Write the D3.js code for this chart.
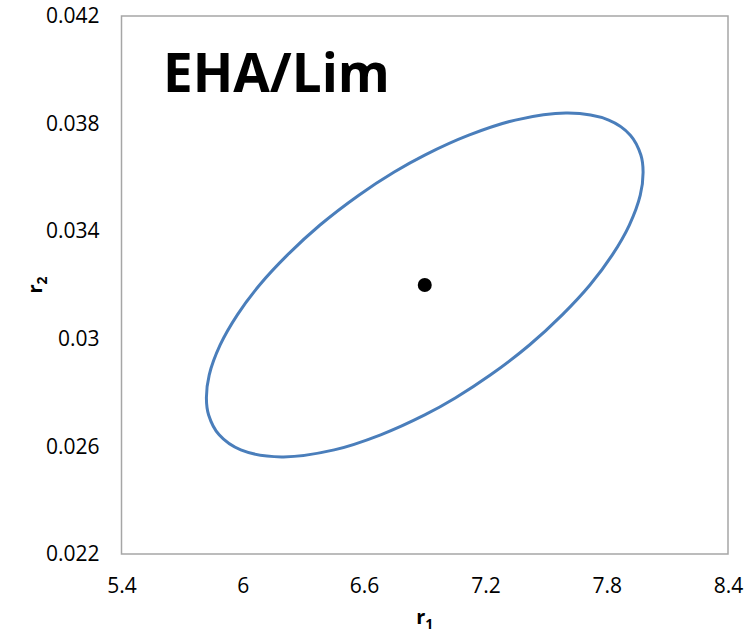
<!DOCTYPE html>
<html>
<head>
<meta charset="utf-8">
<script src="https://cdn.jsdelivr.net/npm/d3@7"></script>
<style>
  body { margin: 0; background: #fff; }
  .tick text { font-family: "Open Sans", sans-serif; }
</style>
</head>
<body>
<div class="chart"></div>
<script>
var svgWidth = 746;
var svgHeight = 633;

var margin = { top: 16, right: 18, bottom: 79, left: 121.5 };
var width = svgWidth - margin.left - margin.right;
var height = svgHeight - margin.top - margin.bottom;

// axis ticks
var xTicks = [5.4, 6, 6.6, 7.2, 7.8, 8.4];
var yTicks = [0.022, 0.026, 0.03, 0.034, 0.038, 0.042];

// estimate (centre point)
var centerR1 = [6.9];
var centerR2 = [0.032];

// confidence ellipse, points (clockwise from the top)
var ellipseR1 = [7.608, 7.810, 7.917, 7.969, 7.980, 7.966, 7.912, 7.827,
                 7.717, 7.580, 7.418, 7.226, 7.051, 6.900, 6.682, 6.452,
                 6.192, 5.990, 5.883, 5.831, 5.820, 5.834, 5.888, 5.973,
                 6.083, 6.220, 6.382, 6.574, 6.749, 6.900, 7.118, 7.348];
var ellipseR2 = [0.03839, 0.03813, 0.03757, 0.03683, 0.03620, 0.03534, 0.03423, 0.03311,
                 0.03200, 0.03089, 0.02977, 0.02866, 0.02780, 0.02717, 0.02643, 0.02587,
                 0.02561, 0.02587, 0.02643, 0.02717, 0.02780, 0.02866, 0.02977, 0.03089,
                 0.03200, 0.03311, 0.03423, 0.03534, 0.03620, 0.03683, 0.03757, 0.03813];

var svg = d3.select(".chart")
  .append("svg")
  .attr("width", svgWidth)
  .attr("height", svgHeight);

var chartGroup = svg.append("g")
  .attr("transform", `translate(${margin.left}, ${margin.top})`);

var xScale = d3.scaleLinear().domain([5.4, 8.4]).range([0, width]);
var yScale = d3.scaleLinear().domain([0.022, 0.042]).range([height, 0]);

// plot area border
chartGroup.append("rect")
  .attr("width", width)
  .attr("height", height)
  .attr("fill", "none")
  .attr("stroke", "#a6a6a6")
  .attr("stroke-width", 1.5);

var bottomAxis = d3.axisBottom(xScale)
  .tickValues(xTicks)
  .tickSize(0)
  .tickPadding(24)
  .tickFormat(d3.format("~g"));
var leftAxis = d3.axisLeft(yScale)
  .tickValues(yTicks)
  .tickSize(0)
  .tickPadding(22)
  .tickFormat(d3.format("~g"));

var xAxisG = chartGroup.append("g")
  .attr("transform", `translate(0, ${height})`)
  .call(bottomAxis);
var yAxisG = chartGroup.append("g").call(leftAxis);

[xAxisG, yAxisG].forEach(function(g) {
  g.select(".domain").remove();
  g.selectAll(".tick text")
    .attr("fill", "#000")
    .style("font-size", "21px");
});

// ellipse
var pts = ellipseR1.map((x, i) => [x, ellipseR2[i]]);
var line = d3.line()
  .x(d => xScale(d[0]))
  .y(d => yScale(d[1]))
  .curve(d3.curveCatmullRomClosed);

chartGroup.append("path")
  .datum(pts)
  .attr("d", line)
  .attr("fill", "none")
  .attr("stroke", "#4a7ebb")
  .attr("stroke-width", 3);

// centre point
chartGroup.selectAll("circle.center")
  .data(centerR1.map((x, i) => [x, centerR2[i]]))
  .enter()
  .append("circle")
  .attr("class", "center")
  .attr("cx", d => xScale(d[0]))
  .attr("cy", d => yScale(d[1]))
  .attr("r", 7)
  .attr("fill", "#000");

// title inside plot
svg.append("text")
  .attr("x", 163)
  .attr("y", 92)
  .style("font-family", "'Open Sans', sans-serif")
  .style("font-weight", "bold")
  .style("font-size", "53px")
  .text("EHA/Lim");

// axis titles
var xTitle = svg.append("text")
  .attr("x", margin.left + width / 2)
  .attr("y", 624)
  .attr("text-anchor", "middle")
  .style("font-family", "'Open Sans', sans-serif")
  .style("font-weight", "bold")
  .style("font-size", "20px");
xTitle.append("tspan").text("r");
xTitle.append("tspan").attr("dy", 5).style("font-size", "14px").text("1");

var yTitle = svg.append("text")
  .attr("transform", `translate(42, ${margin.top + yScale(0.032)}) rotate(-90)`)
  .attr("text-anchor", "middle")
  .style("font-family", "'Open Sans', sans-serif")
  .style("font-weight", "bold")
  .style("font-size", "20px");
yTitle.append("tspan").text("r");
yTitle.append("tspan").attr("dy", 5).style("font-size", "14px").text("2");
</script>
</body>
</html>
